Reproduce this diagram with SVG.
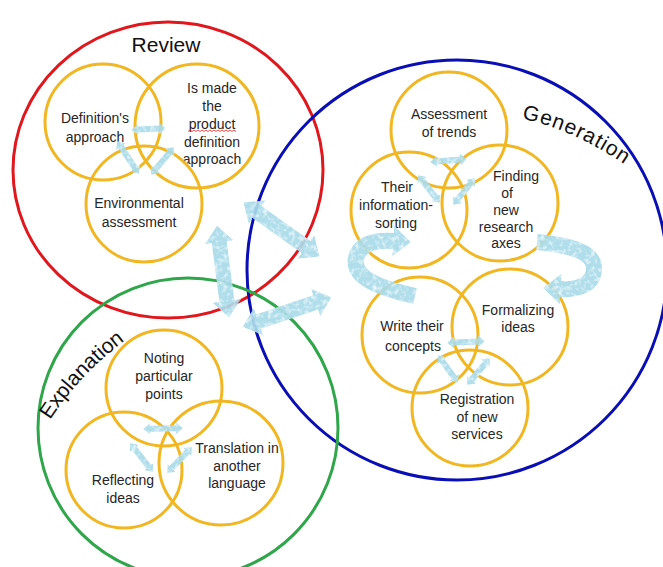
<svg xmlns="http://www.w3.org/2000/svg" width="663" height="567" viewBox="0 0 663 567">
<style>
.big{fill:none;stroke-width:3}
.y{fill:none;stroke:#f1b722;stroke-width:3}
.t{font-family:"Liberation Sans",Arial,sans-serif;font-size:14px;fill:#262626;text-anchor:middle}
.h{font-family:"Liberation Sans",Arial,sans-serif;font-size:21px;fill:#111}
.a{fill:none;stroke:#a9dbe9;stroke-linecap:butt}
.a2{marker-start:url(#ah);marker-end:url(#ah)}
.a1{marker-end:url(#ah)}
</style>
<defs>
<marker id="ah" viewBox="0 0 1.1 1.9" refX="0.05" refY="0.95" markerWidth="1.1" markerHeight="1.9" orient="auto-start-reverse" markerUnits="strokeWidth">
<path d="M0,0 L1.1,0.95 L0,1.9 z" fill="#a9dbe9"/>
</marker>
<filter id="tex" filterUnits="userSpaceOnUse" x="0" y="0" width="663" height="567">
<feTurbulence type="fractalNoise" baseFrequency="0.22" numOctaves="2" seed="4" result="n"/>
<feColorMatrix in="n" type="matrix" values="0 0 0 0 0.85 0 0 0 0 0.96 0 0 0 0 1 0 0 0 2.2 -1.0" result="w"/>
<feComposite in="w" in2="SourceAlpha" operator="in" result="ws"/>
<feMerge><feMergeNode in="SourceGraphic"/><feMergeNode in="ws"/></feMerge>
</filter>
</defs>
<rect width="663" height="567" fill="#fff"/>

<g id="review">
<ellipse class="big" cx="168" cy="170" rx="155" ry="148" stroke="#e0181e"/>
<text class="h" x="166" y="52" text-anchor="middle">Review</text>
</g>
<g id="generation">
<circle class="big" cx="457" cy="270" r="210" stroke="#0a0fb5"/>
<path id="gp" d="M 522 119 Q 572 128 630 168" fill="none"/>
<text class="h" letter-spacing="1"><textPath href="#gp">Generation</textPath></text>
</g>
<g id="explanation">
<circle class="big" cx="188" cy="428" r="150" stroke="#2fa64a"/>
<path id="ep" d="M 50 420 Q 82 370 138 331" fill="none"/>
<text class="h"><textPath href="#ep">Explanation</textPath></text>
</g>

<g id="n-definition">
<circle class="y" cx="103" cy="122" r="58"/>
<text class="t" x="95" y="123">Definition's</text>
<text class="t" x="95" y="142">approach</text>
</g>
<g id="n-product">
<circle class="y" cx="197" cy="126" r="62"/>
<text class="t" x="212" y="93">Is made</text>
<text class="t" x="212" y="111">the</text>
<text class="t" x="212" y="129">product</text>
<text class="t" x="212" y="147">definition</text>
<text class="t" x="212" y="164">approach</text>
<path d="M188 131.5 l2 -1.5 2 1.5 2 -1.5 2 1.5 2 -1.5 2 1.5 2 -1.5 2 1.5 2 -1.5 2 1.5 2 -1.5 2 1.5 2 -1.5 2 1.5 2 -1.5 2 1.5 2 -1.5 2 1.5 2 -1.5 2 1.5 2 -1.5 2 1.5 2 -1.5 2 1.5" fill="none" stroke="#e02020" stroke-width="0.8"/>
</g>
<g id="n-environmental">
<circle class="y" cx="144" cy="204" r="58"/>
<text class="t" x="139" y="208">Environmental</text>
<text class="t" x="139" y="227">assessment</text>
</g>

<g id="n-trends">
<circle class="y" cx="449" cy="130" r="58"/>
<text class="t" x="449" y="119">Assessment</text>
<text class="t" x="449" y="137">of trends</text>
</g>
<g id="n-sorting">
<circle class="y" cx="409" cy="210" r="58"/>
<text class="t" x="397" y="192">Their</text>
<text class="t" x="396" y="210">information-</text>
<text class="t" x="396" y="228">sorting</text>
</g>
<g id="n-finding">
<circle class="y" cx="500" cy="203" r="58"/>
<text class="t" x="516" y="181">Finding</text>
<text class="t" x="507" y="198">of</text>
<text class="t" x="506" y="215">new</text>
<text class="t" x="506" y="232">research</text>
<text class="t" x="506" y="248">axes</text>
</g>
<g id="n-concepts">
<circle class="y" cx="420" cy="335" r="58"/>
<text class="t" x="412" y="331">Write their</text>
<text class="t" x="413" y="351">concepts</text>
</g>
<g id="n-formalizing">
<circle class="y" cx="510" cy="327" r="58"/>
<text class="t" x="518" y="315">Formalizing</text>
<text class="t" x="518" y="332">ideas</text>
</g>
<g id="n-registration">
<circle class="y" cx="470" cy="408" r="58"/>
<text class="t" x="477" y="404">Registration</text>
<text class="t" x="477" y="422">of new</text>
<text class="t" x="477" y="439">services</text>
</g>

<g id="n-noting">
<circle class="y" cx="164" cy="388" r="58"/>
<text class="t" x="164" y="363">Noting</text>
<text class="t" x="164" y="381">particular</text>
<text class="t" x="164" y="399">points</text>
</g>
<g id="n-reflecting">
<circle class="y" cx="124" cy="470" r="58"/>
<text class="t" x="123" y="485">Reflecting</text>
<text class="t" x="123" y="503">ideas</text>
</g>
<g id="n-translation">
<circle class="y" cx="221" cy="463" r="62"/>
<text class="t" x="237" y="453">Translation in</text>
<text class="t" x="237" y="471">another</text>
<text class="t" x="237" y="488">language</text>
</g>

<g id="connectors" filter="url(#tex)" opacity="0.92">
<g stroke-width="6">
<path class="a a2" d="M137.6 129.6 L159.4 128.4"/>
<path class="a a2" d="M120.7 146.5 L135.3 168.5"/>
<path class="a a2" d="M169.8 152.1 L155.2 169.9"/>
<path class="a a2" d="M436.6 161.5 L460.4 159.5"/>
<path class="a a2" d="M422.1 180.2 L435.9 197.8"/>
<path class="a a2" d="M470.8 183.1 L457.2 199.9"/>
<path class="a a2" d="M453.6 342.6 L478.4 341.4"/>
<path class="a a2" d="M441.8 360.4 L454.2 377.6"/>
<path class="a a2" d="M485.7 363 L471.3 380"/>
<path class="a a2" d="M149.6 428.8 L176.4 428.2"/>
<path class="a a2" d="M134.1 448.2 L148.9 466.8"/>
<path class="a a2" d="M187.4 451.8 L171.6 468.2"/>
</g>
<g stroke-width="15">
<path class="a a2" d="M219.1 241.4 L226.9 301.6"/>
<path class="a a2" d="M256.4 211.6 L306.6 247.4"/>
<path class="a a2" d="M257.7 321.8 L316.3 302.2"/>
</g>
<g stroke-width="16">
<path class="a a1" d="M415 296 C 380 288, 352 278, 356 258 C 360 242, 378 240, 394 241"/>
<path class="a a1" d="M537 242 C 570 245, 594 252, 594 268 C 594 285, 578 290, 560 289"/>
</g>
</g>
</svg>
